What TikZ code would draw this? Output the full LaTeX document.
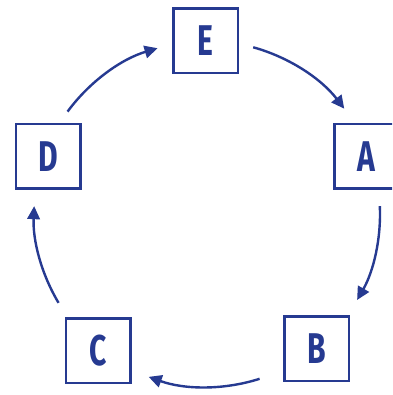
\documentclass[tikz,border=0pt]{standalone}
\usepackage{fontspec}
\usetikzlibrary{arrows.meta}
\newfontfamily\labfont{Fira Sans}[FakeStretch=0.7]
\definecolor{cycleblue}{RGB}{38,58,145}
\tikzset{
  stagebox/.style={draw=cycleblue, line width=2.5pt, minimum size=64.5pt,
    inner sep=0pt, fill=white, text=cycleblue,
    font=\labfont\bfseries\fontsize{43}{43}\selectfont},
  cyclearrow/.style={draw=cycleblue, line width=2.4pt,
    -{Triangle[length=13pt,width=12.5pt]}}
}
\begin{document}
\begin{tikzpicture}[x=1pt,y=1pt]
  \clip (0,0) rectangle (392,395);
  \fill[white] (0,0) rectangle (392,395);
  \coordinate (O) at (207,181);
  % the five stages
  \node[stagebox] (E) at (205.5,354) {E};
  \node[stagebox] (A) at (366.5,238.5) {A};
  \node[stagebox] (B) at (316.5,46) {B};
  \node[stagebox] (C) at (98,44) {C};
  \node[stagebox] (D) at (48,238.5) {D};
  % clockwise arcs between consecutive stages
  \draw[cyclearrow] ([shift={(74.5:173)}]O) arc[start angle=74.5, end angle=37.5, radius=173];
  \draw[cyclearrow] ([shift={(2.6:173)}]O) arc[start angle=2.6, end angle=-29.8, radius=173];
  \draw[cyclearrow] ([shift={(-72.3:173)}]O) arc[start angle=-72.3, end angle=-109.7, radius=173];
  \draw[cyclearrow] ([shift={(210.9:173)}]O) arc[start angle=210.9, end angle=177.4, radius=173];
  \draw[cyclearrow] ([shift={(143.7:173)}]O) arc[start angle=143.7, end angle=106.6, radius=173];
\end{tikzpicture}
\end{document}
